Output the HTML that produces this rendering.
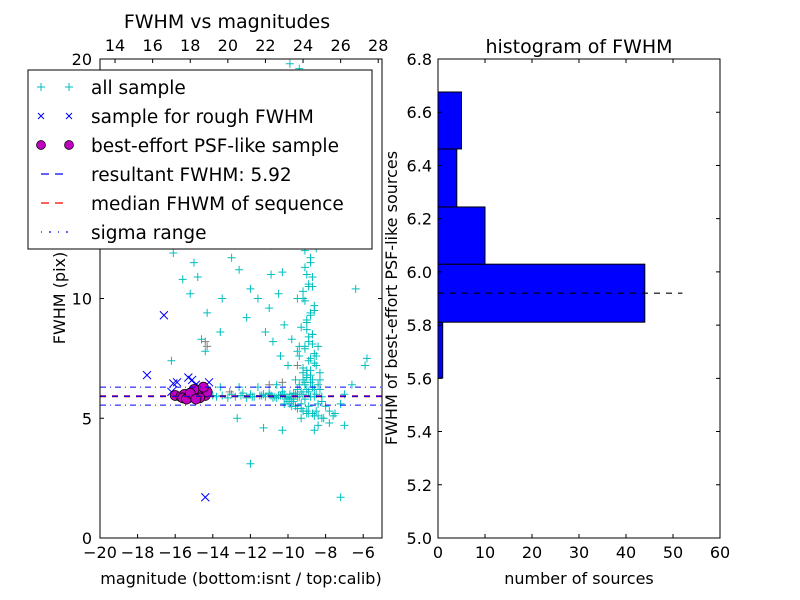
<!DOCTYPE html>
<html><head><meta charset="utf-8">
<style>
body{margin:0;background:#fff;}
svg{display:block;font-family:"DejaVu Sans","Liberation Sans",sans-serif;}
</style></head>
<body>
<svg id="chart" width="800" height="600" viewBox="0 0 800 600">
</svg>
<script>
// ---- data ----
const allMag=[-14,-13.8,-13.5,-13.2,-13,-12.8,-12.5,-12.2,-12,-11.8,-11.5,-11.2,-11,-10.8,-10.5,-10.3,-10.1,-9.9,-9.7,-9.5,-9.3,-9.1,-8.9,-8.7,-8.5,-8.3,-12.6,-11.6,-10.6,-13.6,
-9.0,-8.8,-9.1,-8.7,-9.0,-8.6,-9.2,-8.9,-9.0,-8.8,-9.1,-8.9,-9.3,-9.0,-9.4,-9.1,-9.3,-9.6,-9.2,-9.5,-9.7,-9.4,-8.5,-8.4,-8.3,-9.5,-9.8,-10.2,-8.2,-8.4,-8.6,-7.8,-7.5,-7.2,-7.0,-9.0,-9.3,-8.8,-9.6,-10.0,-10.4,-10.8,-11.2,-11.0,-10.5,-10.3,-10.9,-9.9,-10.2,-9.8,-10.4,-10.1,-10.6,-9.9,
-16.1,-15.9,-15.6,-15.0,-15.2,-14.3,-14.8,-13.5,-13.0,-12.2,-12.6,-12.0,-11.5,-12.9,-13.4,-15.4,-16.0,-14.5,-12.3,-11.8,-11.0,-10.8,-11.7,-13.6,-14.4,-12.7,-11.3,-10.3,-12.0,-7.2,-6.4,-5.8,-5.9,-6.6,-7.0,-16.2,-14.6,-13.8,-12.4,-14.0,-11.6,-10.9,
-9.2,-9.0,-8.8,-8.6,-9.4,-9.1,-8.9,-8.7,-9.3,-9.0,-8.8,-8.6,-9.5,-9.2,-8.9,-8.7,-9.1,-8.8,-8.5,-9.3,-9.0,-8.7,-9.2,-8.9,-8.6,-9.4,-9.0,-8.8,-9.1,-8.7,
-9.6,-9.3,-9.0,-8.7,-8.4,-9.8,-9.5,-9.2,-8.9,-8.6,-10.0,-9.7,-9.4,-9.1,-8.8,-8.5,-8.2,-9.9,-9.6,-9.3,-9.0,-8.7,-8.4,-8.1,-10.2,-9.8,-9.5,-9.2,-8.9,-8.6,
-11.4,-11.0,-10.7,-10.4,-10.2,-10.0,-9.8,-12.4,-11.9,-11.3,-10.9,-10.6,-10.3,-9.9,-9.7,-8.0,-7.8,-7.6,-8.2,-8.4,-8.6,-8.8,-9.0,-9.2,-9.4,-8.3,-8.5,-8.7,-8.9,-9.1];
const allFwhm=[5.95,5.9,5.95,5.85,6.0,5.9,5.95,5.85,6.0,5.9,5.95,5.9,6.05,5.85,5.95,6.1,5.8,6.0,5.7,6.2,5.6,6.4,5.5,6.6,5.3,6.2,6.3,6.3,6.4,6.3,
7,7.5,8,8.5,9,9.5,10,10.5,11,11.5,12,12.5,13,13.5,14,14.5,15,16,17,18,19,19.6,7.2,8.0,6.9,7.8,8.3,8.9,5.0,4.7,4.5,4.8,5.2,5.6,4.7,5.2,5.0,6.8,6.6,7.2,7.6,8.2,8.6,9.6,10.2,11.1,12.2,13.2,14.1,15.2,16.4,17.3,18.5,19.8,
11.9,12.8,10.8,11.5,10.2,9.4,10.9,10.0,11.7,9.2,11.2,10.4,12.5,15.2,13.6,14.5,15.8,16.8,17.5,14.8,15.6,13.6,19.0,8.6,7.8,5.0,4.6,4.5,3.1,1.7,10.4,7.5,7.2,6.4,6.0,7.4,8.3,13.5,12.7,17.6,10.0,11.0,
6.6,6.8,7.0,7.3,7.6,7.9,8.2,8.5,8.8,9.1,9.4,9.7,10.0,10.3,10.6,10.9,11.3,11.7,12.1,12.6,13.1,13.6,7.1,7.4,7.7,8.0,8.7,9.3,9.9,10.5,
6.0,6.1,6.2,6.3,6.4,5.8,5.9,6.0,6.1,6.2,5.7,5.8,5.9,5.8,5.9,6.0,5.9,5.6,5.5,5.4,5.3,5.2,5.1,5.0,5.6,5.5,5.4,5.3,5.2,5.1,
5.95,6.0,5.9,5.95,6.0,5.85,5.9,6.05,5.9,6.0,5.95,5.85,6.0,5.9,6.05,5.5,5.3,5.1,5.7,5.6,5.9,6.5,6.7,6.9,6.4,6.6,7.6,8.1,8.4,6.5];
const grayMag=[-14.4,-14.3,-11,-10.3,-9.5,-13.1];
const grayFwhm=[8.2,8.0,6.4,6.5,7.2,6.1];
const roughMag=[-16.6,-17.5,-16.1,-15.9,-15.3,-15.1,-14.9,-14.7,-14.2,-14.4,-16.2];
const roughFwhm=[9.3,6.8,6.45,6.5,6.7,6.6,6.4,6.3,6.5,1.7,6.1];
const psfMag=[-16,-15.7,-15.5,-15.3,-15.1,-14.9,-14.8,-14.6,-14.4,-14.3,-15.0,-15.6,-14.7,-14.5,-15.4,-15.2,-14.9];
const psfFwhm=[5.95,5.9,6.0,5.85,5.95,6.05,5.9,6.15,5.95,6.1,6.2,5.85,5.85,6.3,5.8,6.05,5.8];
const resultFwhm=5.92, sigmaLo=5.55, sigmaHi=6.3;
const binEdges=[5.601,5.811,6.029,6.244,6.462,6.676];
const binCounts=[1,44,10,4,5];
const xTicksL=[-20,-18,-16,-14,-12,-10,-8,-6];
const topTicks=[14,16,18,20,22,24,26,28];
const yTicksL=[0,5,10,20];
const xTicksR=[0,10,20,30,40,50,60];
const yTicksR=[5.0,5.2,5.4,5.6,5.8,6.0,6.2,6.4,6.6,6.8];

// ---- axes ----
const L={x0:100,x1:382,y0:59,y1:538};
const R={x0:438,x1:720,y0:59,y1:538};
const xL=v=>L.x0+(v+20)/15*(L.x1-L.x0);
const xTop=v=>L.x0+(v-13.2)/15*(L.x1-L.x0);
const yL=v=>L.y1-v/20*(L.y1-L.y0);
const xR=v=>R.x0+v/60*(R.x1-R.x0);
const yR=v=>R.y1-(v-5)/1.8*(R.y1-R.y0);
const svg=document.getElementById('chart');
const NS='http://www.w3.org/2000/svg';
function mk(tag,attrs,parent){const e=document.createElementNS(NS,tag);for(const k in attrs)e.setAttribute(k,attrs[k]);(parent||svg).appendChild(e);return e;}
function txt(x,y,s,anchor,size,parent,rot){const t=mk('text',{x:x,y:y,'text-anchor':anchor,'font-size':size,fill:'#000'},parent);if(rot)t.setAttribute('transform',rot);t.textContent=s;return t;}

const defs=mk('defs',{});
const cp=mk('clipPath',{id:'clipL'},defs);mk('rect',{x:L.x0,y:L.y0,width:L.x1-L.x0,height:L.y1-L.y0},cp);

const gL=mk('g',{'clip-path':'url(#clipL)'});


function plus(x,y,c,g){mk('path',{d:`M${x-4} ${y}H${x+4}M${x} ${y-4}V${y+4}`,stroke:c,'stroke-width':1,fill:'none'},g);}
const gAll=mk('g',{},gL);


for(let i=0;i<allMag.length;i++)plus(xL(allMag[i]),yL(allFwhm[i]),'#00bfbf',gAll);
for(let i=0;i<grayMag.length;i++)plus(xL(grayMag[i]),yL(grayFwhm[i]),'#808080',gAll);
const gR=mk('g',{},gL);


for(let i=0;i<roughMag.length;i++){const x=xL(roughMag[i]),y=yL(roughFwhm[i]);mk('path',{d:`M${x-4} ${y-4}L${x+4} ${y+4}M${x-4} ${y+4}L${x+4} ${y-4}`,stroke:'#0000ff','stroke-width':1},gR);}
const gP=mk('g',{},gL);


for(let i=0;i<psfMag.length;i++)mk('circle',{cx:xL(psfMag[i]),cy:yL(psfFwhm[i]),r:5,fill:'#bf00bf',stroke:'#000','stroke-width':0.7},gP);
const med=mk('line',{x1:L.x0,x2:L.x1,y1:yL(resultFwhm),y2:yL(resultFwhm),stroke:'#ff0000','stroke-width':2,'stroke-dasharray':'6 6'},gL);


const res=mk('line',{x1:L.x0,x2:L.x1,y1:yL(resultFwhm),y2:yL(resultFwhm),stroke:'#0000ff','stroke-width':1.2,'stroke-dasharray':'6 6'},gL);


for(const s of [sigmaLo,sigmaHi]){const l=mk('line',{x1:L.x0,x2:L.x1,y1:yL(s),y2:yL(s),stroke:'#0000ff','stroke-width':1,'stroke-dasharray':'6 4 1 4'},gL);

}

const fL=mk('rect',{x:L.x0,y:L.y0,width:L.x1-L.x0,height:L.y1-L.y0,fill:'none',stroke:'#000'});


for(const v of xTicksL){const x=xL(v);mk('path',{d:`M${x} ${L.y1}v-4`,stroke:'#000'});
const t=txt(x,L.y1+20,(v<0?'\u2212'+(-v):v),'middle',16);

}
for(const v of topTicks){const x=xTop(v);mk('path',{d:`M${x} ${L.y0}v4`,stroke:'#000'});
const t=txt(x,L.y0-8,v,'middle',16);

}
for(const v of yTicksL){const y=yL(v);mk('path',{d:`M${L.x0} ${y}h4M${L.x1} ${y}h-4`,stroke:'#000'});
const t=txt(L.x0-8,y+6,v,'end',16);

}
let t;
t=txt(227,28,'FWHM vs magnitudes','middle',19);
t=txt(241,584,'magnitude (bottom:isnt / top:calib)','middle',16);
t=txt(65,298,'FWHM (pix)','middle',16,null,'rotate(-90 65 298)');

const lg=mk('g',{});


mk('rect',{x:28,y:70,width:344,height:179,fill:'#fff',stroke:'#000'},lg);
const labels=['all sample','sample for rough FWHM','best-effort PSF-like sample','resultant FWHM: 5.92','median FHWM of sequence','sigma range'];
labels.forEach((s,i)=>{const y=87+i*29;const e=mk('g',{},lg);


if(i==0){plus(41,y,'#00bfbf',e);plus(69,y,'#00bfbf',e);}
if(i==1){for(const x of [41,69])mk('path',{d:`M${x-3} ${y-3}l6 6M${x-3} ${y+3}l6 -6`,stroke:'#0000ff'},e);}
if(i==2){for(const x of [41,69])mk('circle',{cx:x,cy:y,r:4.5,fill:'#bf00bf',stroke:'#000','stroke-width':0.7},e);}
if(i==3)mk('line',{x1:41,x2:69,y1:y,y2:y,stroke:'#0000ff','stroke-width':1.3,'stroke-dasharray':'8 6'},e);
if(i==4)mk('line',{x1:41,x2:69,y1:y,y2:y,stroke:'#ff0000','stroke-width':1.3,'stroke-dasharray':'8 6'},e);
if(i==5)mk('line',{x1:41,x2:69,y1:y,y2:y,stroke:'#0000ff','stroke-width':1.3,'stroke-dasharray':'1 7 2 7'},e);
txt(91,y+7,s,'start',18.5,e);});

const gH=mk('g',{});


for(let i=0;i<binCounts.length;i++){const r=mk('rect',{x:xR(0),y:yR(binEdges[i+1]),width:xR(binCounts[i])-xR(0),height:yR(binEdges[i])-yR(binEdges[i+1]),fill:'#0000ff',stroke:'#000'},gH);

}
const hl=mk('line',{x1:xR(0),x2:xR(52),y1:yR(resultFwhm),y2:yR(resultFwhm),stroke:'#000','stroke-width':1.2,'stroke-dasharray':'6 6'});


const fR=mk('rect',{x:R.x0,y:R.y0,width:R.x1-R.x0,height:R.y1-R.y0,fill:'none',stroke:'#000'});


for(const v of xTicksR){const x=xR(v);mk('path',{d:`M${x} ${R.y1}v-4M${x} ${R.y0}v4`,stroke:'#000'});
const t2=txt(x,R.y1+20,v,'middle',16);

}
for(const v of yTicksR){const y=yR(v);mk('path',{d:`M${R.x0} ${y}h4M${R.x1} ${y}h-4`,stroke:'#000'});
const t2=txt(R.x0-6,y+6,v.toFixed(1),'end',16);

}
t=txt(579,53,'histogram of FWHM','middle',19);
t=txt(579,584,'number of sources','middle',16);
t=txt(397,298,'FWHM of best-effort PSF-like sources','middle',16,null,'rotate(-90 397 298)');
</script>
</body></html>
